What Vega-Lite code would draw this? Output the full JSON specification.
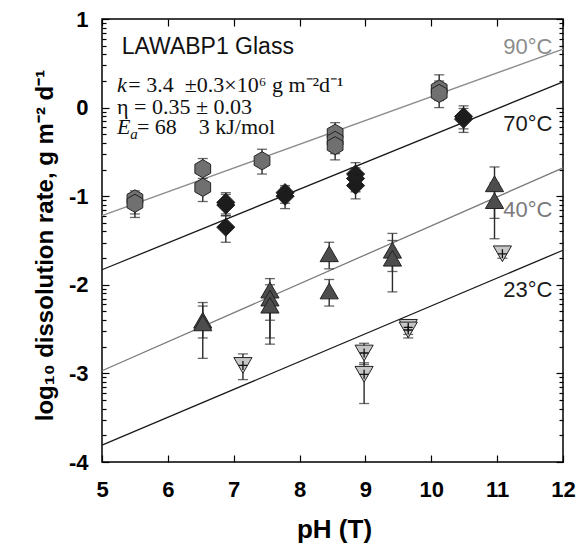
{
  "$schema": "https://vega.github.io/schema/vega-lite/v6.json",
  "autosize": {"type": "none"},
  "width": 461,
  "height": 443,
  "padding": {"left": 102, "top": 19, "right": 14, "bottom": 82},
  "background": "white",
  "config": {
    "view": {"stroke": "#000", "strokeWidth": 1.5},
    "axis": {"grid": false, "domain": false, "tickColor": "#000", "tickWidth": 1.2, "labelColor": "#000", "titleColor": "#000"}
  },
  "datasets": {
    "lines": [
      {"line": "90", "pH": 5, "v": -1.22}, {"line": "90", "pH": 12, "v": 0.66},
      {"line": "70", "pH": 5, "v": -1.83}, {"line": "70", "pH": 12, "v": 0.29},
      {"line": "40", "pH": 5, "v": -2.97}, {"line": "40", "pH": 12, "v": -0.68},
      {"line": "23", "pH": 5, "v": -3.81}, {"line": "23", "pH": 12, "v": -1.61}
    ],
    "points": [
      {"series": "90", "pH": 5.50, "v": -1.03, "lo": -1.20, "hi": -0.94},
      {"series": "90", "pH": 5.50, "v": -1.08, "lo": -1.24, "hi": -0.97},
      {"series": "90", "pH": 6.53, "v": -0.69, "lo": -0.85, "hi": -0.575},
      {"series": "90", "pH": 6.53, "v": -0.90, "lo": -1.06, "hi": -0.80},
      {"series": "90", "pH": 7.43, "v": -0.60, "lo": -0.75, "hi": -0.47},
      {"series": "90", "pH": 8.54, "v": -0.29, "lo": -0.45, "hi": -0.17},
      {"series": "90", "pH": 8.54, "v": -0.37, "lo": -0.52, "hi": -0.25},
      {"series": "90", "pH": 8.54, "v": -0.43, "lo": -0.59, "hi": -0.32},
      {"series": "90", "pH": 10.12, "v": 0.21, "lo": 0.08, "hi": 0.37},
      {"series": "90", "pH": 10.12, "v": 0.16, "lo": 0.0, "hi": 0.30},
      {"series": "70", "pH": 6.88, "v": -1.07, "lo": -1.20, "hi": -0.96},
      {"series": "70", "pH": 6.88, "v": -1.10, "lo": -1.22, "hi": -0.98},
      {"series": "70", "pH": 6.88, "v": -1.35, "lo": -1.52, "hi": -1.22},
      {"series": "70", "pH": 7.78, "v": -0.96, "lo": -1.08, "hi": -0.88},
      {"series": "70", "pH": 7.78, "v": -1.00, "lo": -1.14, "hi": -0.90},
      {"series": "70", "pH": 8.85, "v": -0.75, "lo": -0.88, "hi": -0.62},
      {"series": "70", "pH": 8.85, "v": -0.80, "lo": -0.95, "hi": -0.68},
      {"series": "70", "pH": 8.85, "v": -0.88, "lo": -1.03, "hi": -0.75},
      {"series": "70", "pH": 10.49, "v": -0.10, "lo": -0.24, "hi": 0.02},
      {"series": "70", "pH": 10.49, "v": -0.13, "lo": -0.28, "hi": -0.01},
      {"series": "40", "pH": 6.53, "v": -2.40, "lo": -2.83, "hi": -2.20},
      {"series": "40", "pH": 6.53, "v": -2.43, "lo": -2.60, "hi": -2.24},
      {"series": "40", "pH": 7.55, "v": -2.06, "lo": -2.60, "hi": -1.93},
      {"series": "40", "pH": 7.55, "v": -2.15, "lo": -2.67, "hi": -2.00},
      {"series": "40", "pH": 7.55, "v": -2.23, "lo": -2.40, "hi": -2.08},
      {"series": "40", "pH": 8.45, "v": -1.65, "lo": -1.82, "hi": -1.52},
      {"series": "40", "pH": 8.45, "v": -2.07, "lo": -2.24, "hi": -1.94},
      {"series": "40", "pH": 9.41, "v": -1.61, "lo": -1.85, "hi": -1.42},
      {"series": "40", "pH": 9.41, "v": -1.70, "lo": -2.08, "hi": -1.50},
      {"series": "40", "pH": 10.96, "v": -0.86, "lo": -1.25, "hi": -0.67},
      {"series": "40", "pH": 10.96, "v": -1.05, "lo": -1.48, "hi": -0.85},
      {"series": "23", "pH": 7.14, "v": -2.91, "lo": -3.07, "hi": -2.78},
      {"series": "23", "pH": 8.98, "v": -2.77, "lo": -2.90, "hi": -2.66},
      {"series": "23", "pH": 8.98, "v": -3.01, "lo": -3.34, "hi": -2.88},
      {"series": "23", "pH": 9.65, "v": -2.48, "lo": -2.56, "hi": -2.43},
      {"series": "23", "pH": 9.65, "v": -2.51, "lo": -2.60, "hi": -2.45},
      {"series": "23", "pH": 11.08, "v": -1.65, "lo": -1.70, "hi": -1.60}
    ],
    "temps": [
      {"line": "90", "lab": "90°C", "pH": 11.84, "v": 0.68},
      {"line": "70", "lab": "70°C", "pH": 11.84, "v": -0.18},
      {"line": "40", "lab": "40°C", "pH": 11.84, "v": -1.16},
      {"line": "23", "lab": "23°C", "pH": 11.84, "v": -2.06}
    ],
    "notes": [
      {"kind": "sans", "txt": "LAWABP1 Glass", "pH": 5.30, "v": 0.605},
      {"kind": "italic", "txt": "k", "pH": 5.228, "v": 0.18},
      {"kind": "serif", "txt": "= 3.4\u00a0\u00a0±0.3×10⁶ g m⁻²d⁻¹", "pH": 5.40, "v": 0.18},
      {"kind": "serif", "txt": "η = 0.35 ± 0.03", "pH": 5.228, "v": -0.068},
      {"kind": "italic", "txt": "E", "pH": 5.228, "v": -0.30},
      {"kind": "sub", "txt": "a", "pH": 5.43, "v": -0.36},
      {"kind": "serif", "txt": "= 68\u00a0\u00a0\u00a0\u00a03 kJ/mol", "pH": 5.53, "v": -0.30}
    ]
  },
  "resolve": {"axis": {"x": "independent", "y": "independent"}},
  "layer": [
    {
      "data": {"name": "lines"},
      "mark": {"type": "line", "strokeWidth": 1.3},
      "encoding": {
        "x": {"field": "pH", "type": "quantitative", "scale": {"domain": [5, 12], "nice": false, "zero": false},
          "axis": {"orient": "bottom", "values": [5, 6, 7, 8, 9, 10, 11, 12], "tickSize": -7, "labelPadding": 24,
            "labelFont": "Liberation Sans", "labelFontSize": 22, "labelFontWeight": "bold", "labelFlush": false,
            "title": "pH (T)", "titleFont": "Liberation Sans", "titleFontSize": 26, "titleFontWeight": "bold",
            "titleX": 232, "titleY": 75, "titleBaseline": "alphabetic", "titleAlign": "center"}},
        "y": {"field": "v", "type": "quantitative", "scale": {"domain": [-4, 1], "nice": false, "zero": false},
          "axis": {"orient": "left",
            "values": [-4, -3.69897, -3.52288, -3.39794, -3.30103, -3.22185, -3.1549, -3.09691, -3.04576,
              -3, -2.69897, -2.52288, -2.39794, -2.30103, -2.22185, -2.1549, -2.09691, -2.04576,
              -2, -1.69897, -1.52288, -1.39794, -1.30103, -1.22185, -1.1549, -1.09691, -1.04576,
              -1, -0.69897, -0.52288, -0.39794, -0.30103, -0.22185, -0.1549, -0.09691, -0.04576,
              0, 0.30103, 0.47712, 0.60206, 0.69897, 0.77815, 0.8451, 0.90309, 0.95424, 1],
            "tickSize": {"condition": {"test": "datum.value % 1 === 0", "value": -7}, "value": -4},
            "labelPadding": 21, "labelOverlap": false, "labelBound": false, "labelFlush": false,
            "labelExpr": "datum.value % 1 === 0 ? '' + datum.value : ''",
            "labelFont": "Liberation Sans", "labelFontSize": 22, "labelFontWeight": "bold",
            "title": "log₁₀ dissolution rate, g m⁻² d⁻¹", "titleFont": "Liberation Sans", "titleFontSize": 24, "titleFontWeight": "bold",
            "titleAngle": -90, "titleX": -57, "titleY": 226, "titleAlign": "center", "titleBaseline": "middle"}},
        "detail": {"field": "line"},
        "color": {"field": "line", "type": "nominal", "scale": {"domain": ["90", "70", "40", "23"], "range": ["#8c8c8c", "#1a1a1a", "#7a7a7a", "#1a1a1a"]}, "legend": null}
      }
    },
    {
      "data": {"name": "points"},
      "mark": {"type": "rule", "color": "#2a2a2a", "strokeWidth": 1.4},
      "encoding": {
        "x": {"field": "pH", "type": "quantitative", "scale": {"domain": [5, 12], "nice": false, "zero": false},
          "axis": {"orient": "top", "values": [5, 6, 7, 8, 9, 10, 11, 12], "tickSize": -7, "labels": false, "title": null}},
        "y": {"field": "lo", "type": "quantitative", "scale": {"domain": [-4, 1], "nice": false, "zero": false},
          "axis": {"orient": "right",
            "values": [-4, -3.69897, -3.52288, -3.39794, -3.30103, -3.22185, -3.1549, -3.09691, -3.04576,
              -3, -2.69897, -2.52288, -2.39794, -2.30103, -2.22185, -2.1549, -2.09691, -2.04576,
              -2, -1.69897, -1.52288, -1.39794, -1.30103, -1.22185, -1.1549, -1.09691, -1.04576,
              -1, -0.69897, -0.52288, -0.39794, -0.30103, -0.22185, -0.1549, -0.09691, -0.04576,
              0, 0.30103, 0.47712, 0.60206, 0.69897, 0.77815, 0.8451, 0.90309, 0.95424, 1],
            "tickSize": {"condition": {"test": "datum.value % 1 === 0", "value": -7}, "value": -4},
            "labels": false, "title": null}},
        "y2": {"field": "hi"}
      }
    },
    {
      "data": {"name": "points"},
      "mark": {"type": "tick", "orient": "horizontal", "color": "#2a2a2a", "size": 10, "thickness": 1.3},
      "encoding": {
        "x": {"field": "pH", "type": "quantitative", "axis": null},
        "y": {"field": "lo", "type": "quantitative", "axis": null}
      }
    },
    {
      "data": {"name": "points"},
      "mark": {"type": "tick", "orient": "horizontal", "color": "#2a2a2a", "size": 10, "thickness": 1.3},
      "encoding": {
        "x": {"field": "pH", "type": "quantitative", "axis": null},
        "y": {"field": "hi", "type": "quantitative", "axis": null}
      }
    },
    {
      "data": {"name": "points"},
      "mark": {"type": "point", "filled": true, "stroke": "#222", "strokeWidth": 1, "opacity": 1, "size": 330},
      "encoding": {
        "x": {"field": "pH", "type": "quantitative", "axis": null},
        "y": {"field": "v", "type": "quantitative", "axis": null},
        "shape": {"field": "series", "type": "nominal", "scale": {"domain": ["90", "70", "40", "23"], "range": ["M0,-1L0.866,-0.5L0.866,0.5L0,1L-0.866,0.5L-0.866,-0.5Z", "diamond", "triangle-up", "triangle-down"]}, "legend": null},
        "fill": {"field": "series", "type": "nominal", "scale": {"domain": ["90", "70", "40", "23"], "range": ["#707070", "#1c1c1c", "#4d4d4d", "#c6c6c6"]}, "legend": null}
      }
    },
    {
      "data": {"name": "points"},
      "transform": [{"filter": "datum.series === '23'"}],
      "mark": {"type": "point", "shape": "M-1,0L1,0M0,-1L0,1", "filled": false, "stroke": "#111", "strokeWidth": 1.3, "opacity": 1, "size": 80},
      "encoding": {
        "x": {"field": "pH", "type": "quantitative", "axis": null},
        "y": {"field": "v", "type": "quantitative", "axis": null}
      }
    },
    {
      "data": {"name": "temps"},
      "mark": {"type": "text", "align": "right", "baseline": "middle", "font": "Liberation Sans", "fontSize": 22},
      "encoding": {
        "x": {"field": "pH", "type": "quantitative", "axis": null},
        "y": {"field": "v", "type": "quantitative", "axis": null},
        "text": {"field": "lab"},
        "color": {"field": "line", "type": "nominal", "legend": null}
      }
    },
    {
      "data": {"name": "notes"},
      "transform": [{"filter": "datum.kind === 'sans'"}],
      "mark": {"type": "text", "align": "left", "baseline": "alphabetic", "font": "Liberation Sans", "fontSize": 23, "color": "#111"},
      "encoding": {
        "x": {"field": "pH", "type": "quantitative", "axis": null},
        "y": {"field": "v", "type": "quantitative", "axis": null},
        "text": {"field": "txt"}
      }
    },
    {
      "data": {"name": "notes"},
      "transform": [{"filter": "datum.kind === 'serif'"}],
      "mark": {"type": "text", "align": "left", "baseline": "alphabetic", "font": "Liberation Serif", "fontSize": 22, "color": "#111"},
      "encoding": {
        "x": {"field": "pH", "type": "quantitative", "axis": null},
        "y": {"field": "v", "type": "quantitative", "axis": null},
        "text": {"field": "txt"}
      }
    },
    {
      "data": {"name": "notes"},
      "transform": [{"filter": "datum.kind === 'italic'"}],
      "mark": {"type": "text", "align": "left", "baseline": "alphabetic", "font": "Liberation Serif", "fontStyle": "italic", "fontSize": 22, "color": "#111"},
      "encoding": {
        "x": {"field": "pH", "type": "quantitative", "axis": null},
        "y": {"field": "v", "type": "quantitative", "axis": null},
        "text": {"field": "txt"}
      }
    },
    {
      "data": {"name": "notes"},
      "transform": [{"filter": "datum.kind === 'sub'"}],
      "mark": {"type": "text", "align": "left", "baseline": "alphabetic", "font": "Liberation Serif", "fontStyle": "italic", "fontSize": 15, "color": "#111"},
      "encoding": {
        "x": {"field": "pH", "type": "quantitative", "axis": null},
        "y": {"field": "v", "type": "quantitative", "axis": null},
        "text": {"field": "txt"}
      }
    }
  ]
}
